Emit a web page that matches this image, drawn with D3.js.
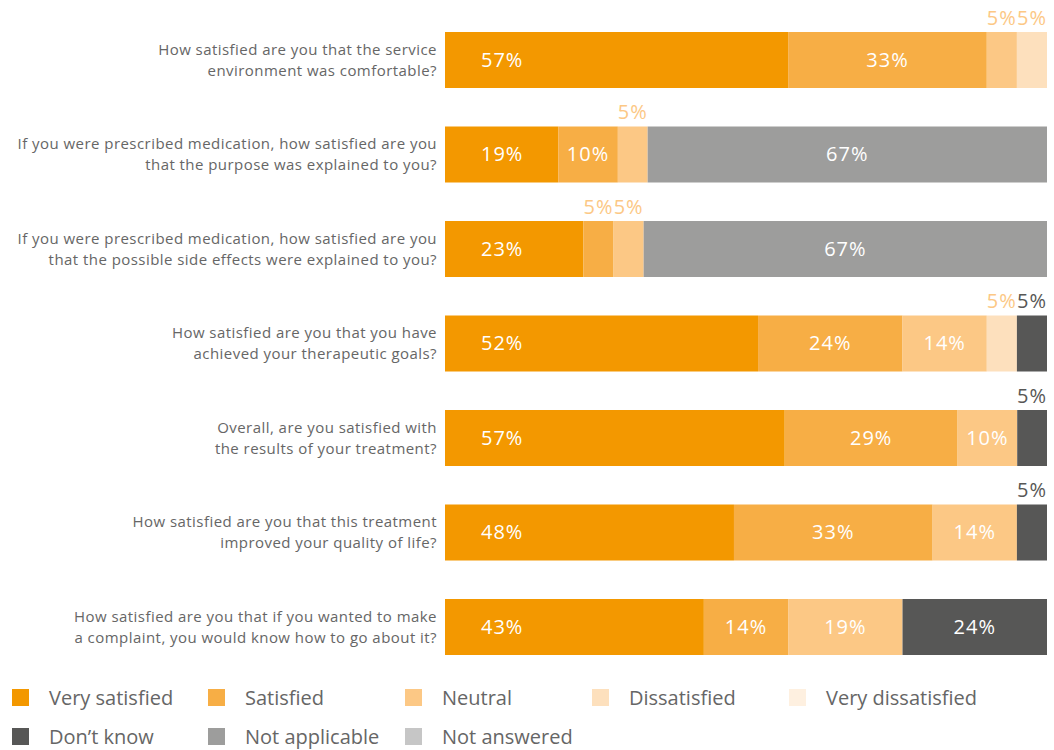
<!DOCTYPE html>
<html>
<head>
<meta charset="utf-8">
<script src="https://cdn.jsdelivr.net/npm/d3@7"></script>
<style>
  body { margin: 0; background: #fff; }
  text { font-family: "Open Sans", "Noto Sans", sans-serif; }
</style>
</head>
<body>
<div id="chart"></div>
<script>
// Questions (two lines each)
var questions = [
  ["How satisfied are you that the service", "environment was comfortable?"],
  ["If you were prescribed medication, how satisfied are you", "that the purpose was explained to you?"],
  ["If you were prescribed medication, how satisfied are you", "that the possible side effects were explained to you?"],
  ["How satisfied are you that you have", "achieved your therapeutic goals?"],
  ["Overall, are you satisfied with", "the results of your treatment?"],
  ["How satisfied are you that this treatment", "improved your quality of life?"],
  ["How satisfied are you that if you wanted to make", "a complaint, you would know how to go about it?"]
];

var categories = ["Very satisfied", "Satisfied", "Neutral", "Dissatisfied", "Very dissatisfied",
                  "Don\u2019t know", "Not applicable", "Not answered"];

// series values, one per category, one entry per question (%)
var verySatisfied    = [57, 19, 23, 52, 57, 48, 43];
var satisfied        = [33, 10, 5, 24, 29, 33, 14];
var neutral          = [5, 5, 5, 14, 10, 14, 19];
var dissatisfied     = [5, 0, 0, 5, 0, 0, 0];
var veryDissatisfied = [0, 0, 0, 0, 0, 0, 0];
var dontKnow         = [0, 0, 0, 5, 5, 5, 24];
var notApplicable    = [0, 67, 67, 0, 0, 0, 0];
var notAnswered      = [0, 0, 0, 0, 0, 0, 0];

var series = [verySatisfied, satisfied, neutral, dissatisfied, veryDissatisfied,
              dontKnow, notApplicable, notAnswered];

var colors = ["#F39800", "#F7AE45", "#FCC885", "#FDE0BD", "#FEF0E0", "#575756", "#9D9D9C", "#C6C6C6"];
var outsideColors = ["#F39800", "#FCC885", "#FCC885", "#FCC885", "#FCC885", "#575756", "#9D9D9C", "#C6C6C6"];

var width = 1054, height = 750;

var svg = d3.select("#chart").append("svg")
  .attr("width", width)
  .attr("height", height);

// build rows
var rows = questions.map(function(q, i) {
  var total = d3.sum(series, function(s) { return s[i]; });
  var acc = 0;
  var segs = series.map(function(s, c) {
    var seg = { cat: c, value: s[i], start: acc / total * 100, end: (acc + s[i]) / total * 100 };
    acc += s[i];
    return seg;
  }).filter(function(d) { return d.value > 0; });
  return { idx: i, q: q, segs: segs };
});

var x = d3.scaleLinear().domain([0, 100]).range([445, 1047]);
var y = d3.scaleBand()
  .domain(d3.range(questions.length))
  .range([32, 655])
  .paddingInner(0.4074)
  .paddingOuter(0);

// first-column labels line up at the centre of the narrowest first segment
var firstLabelX = x(d3.min(verySatisfied) / 2);

var rowG = svg.selectAll(".row")
  .data(rows)
  .enter().append("g")
  .attr("class", "row")
  .attr("transform", d => `translate(0, ${y(d.idx)})`);

// question labels
rowG.append("text")
  .attr("x", 437)
  .attr("y", y.bandwidth() / 2)
  .attr("text-anchor", "end")
  .style("font-size", "15px")
  .style("letter-spacing", "0.45px")
  .style("fill", "#666")
  .selectAll("tspan")
  .data(d => d.q)
  .enter().append("tspan")
  .attr("x", 437)
  .attr("dy", (d, i) => i === 0 ? -5 : 21)
  .text(d => d);

// bars
rowG.selectAll("rect")
  .data(d => d.segs)
  .enter().append("rect")
  .attr("x", d => x(d.start))
  .attr("y", 0)
  .attr("width", d => x(d.end) - x(d.start))
  .attr("height", y.bandwidth())
  .attr("fill", d => colors[d.cat]);

// value labels
rowG.selectAll(".val")
  .data(d => d.segs)
  .enter().append("text")
  .attr("class", "val")
  .attr("x", d => d.cat === 0 ? firstLabelX : (x(d.start) + x(d.end)) / 2)
  .attr("y", d => d.value <= 5 ? -7 : y.bandwidth() / 2 + 7)
  .attr("text-anchor", "middle")
  .style("font-size", "20px")
  .style("letter-spacing", "1px")
  .style("fill", d => d.value <= 5 ? outsideColors[d.cat] : "#fff")
  .text(d => d.value + "%");

// legend
var legendX = [12, 208, 405, 592, 789];
var legend = svg.selectAll(".legend")
  .data(categories)
  .enter().append("g")
  .attr("class", "legend")
  .attr("transform", (d, i) => `translate(${legendX[i % 5]}, ${i < 5 ? 689 : 728})`);

legend.append("rect")
  .attr("width", 17)
  .attr("height", 17)
  .attr("fill", (d, i) => colors[i]);

legend.append("text")
  .attr("x", 37)
  .attr("y", 16)
  .style("font-size", "20px")
  .style("fill", "#666")
  .text(d => d);
</script>
</body>
</html>
